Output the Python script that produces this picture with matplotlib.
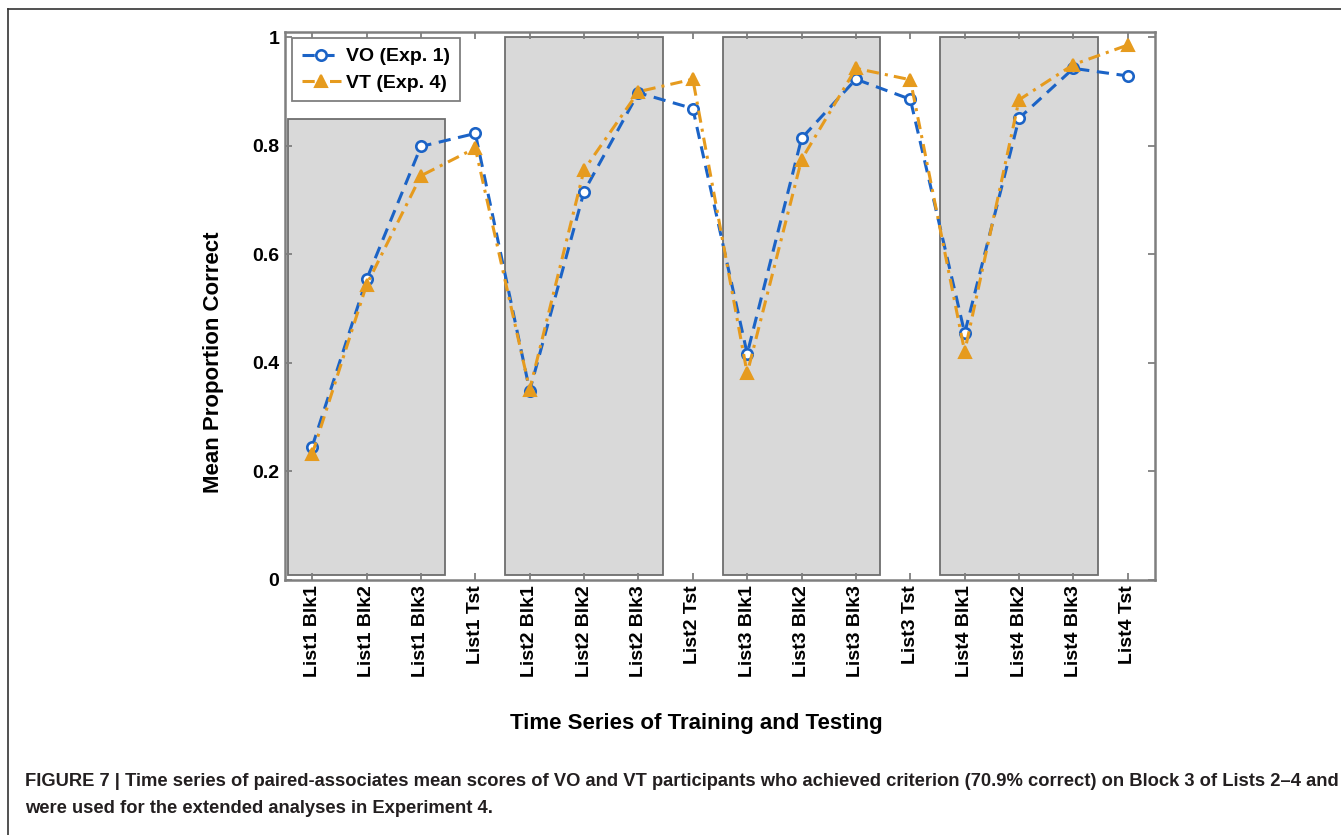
import matplotlib
matplotlib.use("Agg")
import matplotlib.pyplot as plt
from matplotlib.patches import Rectangle
from matplotlib.lines import Line2D

# Session labels along the time axis
sessions = ["List1 Blk1", "List1 Blk2", "List1 Blk3", "List1 Tst",
            "List2 Blk1", "List2 Blk2", "List2 Blk3", "List2 Tst",
            "List3 Blk1", "List3 Blk2", "List3 Blk3", "List3 Tst",
            "List4 Blk1", "List4 Blk2", "List4 Blk3", "List4 Tst"]

# Mean proportion correct per session
vo_scores = [0.246, 0.554, 0.799, 0.823, 0.349, 0.716, 0.898, 0.869,
             0.417, 0.814, 0.923, 0.886, 0.455, 0.851, 0.943, 0.929]
vt_scores = [0.232, 0.544, 0.745, 0.796, 0.351, 0.756, 0.900, 0.923,
             0.381, 0.775, 0.943, 0.922, 0.421, 0.885, 0.950, 0.986]

# Training blocks shaded per list (first session index, height of band)
block_first = [1, 5, 9, 13]
block_height = [0.85, 1.0, 1.0, 1.0]

y_ticks = [0, 0.2, 0.4, 0.6, 0.8, 1]
y_ticklabels = ["0", "0.2", "0.4", "0.6", "0.8", "1"]

caption = ("FIGURE 7 | Time series of paired-associates mean scores of VO and VT "
           "participants who achieved criterion (70.9% correct) on Block 3 of Lists 2\u20134 and\n"
           "were used for the extended analyses in Experiment 4.")

BLUE = "#1b63c6"
ORANGE = "#e69b1e"
GRAY = "#7f7f7f"

plt.rcParams["font.family"] = ["Liberation Sans", "DejaVu Sans"]
plt.rcParams["font.weight"] = "bold"

fig = plt.figure(figsize=(13.41, 8.35), dpi=100)
ax = fig.add_axes([285 / 1341, 1 - 580 / 835, 870 / 1341, 548 / 835])

x = list(range(1, len(sessions) + 1))

for start, h in zip(block_first, block_height):
    ax.add_patch(Rectangle((start - 0.45, 0.01), 2.9, h - 0.01,
                           facecolor="#d9d9d9", edgecolor="#6e6e6e",
                           linewidth=1.3, zorder=1))

ax.plot(x, vo_scores, linestyle=(0, (4, 2.5)), color=BLUE, linewidth=2.2,
        marker="o", markersize=7.5, markerfacecolor="white",
        markeredgecolor=BLUE, markeredgewidth=1.9, label="VO (Exp. 1)", zorder=3)
ax.plot(x, vt_scores, linestyle=(0, (4, 2, 1, 2)), color=ORANGE, linewidth=2.2,
        marker="^", markersize=8, markerfacecolor=ORANGE,
        markeredgecolor=ORANGE, markeredgewidth=1.5, label="VT (Exp. 4)", zorder=4)

ax.set_xlim(0.5, 16.5)
ax.set_ylim(0, 1.01)
ax.set_xticks(x)
ax.set_xticklabels(sessions, rotation=90, fontsize=14, fontweight="bold")
ax.set_yticks(y_ticks)
ax.set_yticklabels(y_ticklabels, fontsize=14, fontweight="bold")
ax.tick_params(direction="in", length=5, width=1.3, color=GRAY,
               top=True, right=True, pad=4)

for spine in ax.spines.values():
    spine.set_color(GRAY)
    spine.set_linewidth(1.8)

leg = ax.legend(loc="upper left", bbox_to_anchor=(0.008, 0.989),
                borderaxespad=0, fontsize=14, handlelength=2.0,
                handletextpad=0.3, borderpad=0.5, labelspacing=0.45,
                fancybox=False, framealpha=1, edgecolor=GRAY)
leg.get_frame().set_linewidth(1.3)
for t in leg.get_texts():
    t.set_fontweight("bold")

fig.text(213 / 1341, 1 - 362 / 835, "Mean Proportion Correct", rotation=90,
         ha="center", va="center", fontsize=16, fontweight="bold")
fig.text(696 / 1341, 1 - 723 / 835, "Time Series of Training and Testing",
         ha="center", va="center", fontsize=16, fontweight="bold")

# Caption, sized to span the page width
cap = fig.text(25 / 1341, 1 - 795 / 835, caption, ha="left", va="center",
               fontsize=12, fontweight="bold", color="#231f20",
               linespacing=1.75)
fig.canvas.draw()
renderer = fig.canvas.get_renderer()
first_line = fig.text(0, 0, caption.split("\n")[0], fontsize=12, fontweight="bold")
w = first_line.get_window_extent(renderer).width
first_line.remove()
cap.set_fontsize(12 * 1310 / w)

# Page frame on the left and top edges
fig.add_artist(Line2D([8 / 1341, 8 / 1341], [0, 1 - 9 / 835],
                      transform=fig.transFigure, color="#333333", linewidth=1.2))
fig.add_artist(Line2D([8 / 1341, 1], [1 - 9 / 835, 1 - 9 / 835],
                      transform=fig.transFigure, color="#333333", linewidth=1.2))

fig.savefig("out.png", dpi=100)
